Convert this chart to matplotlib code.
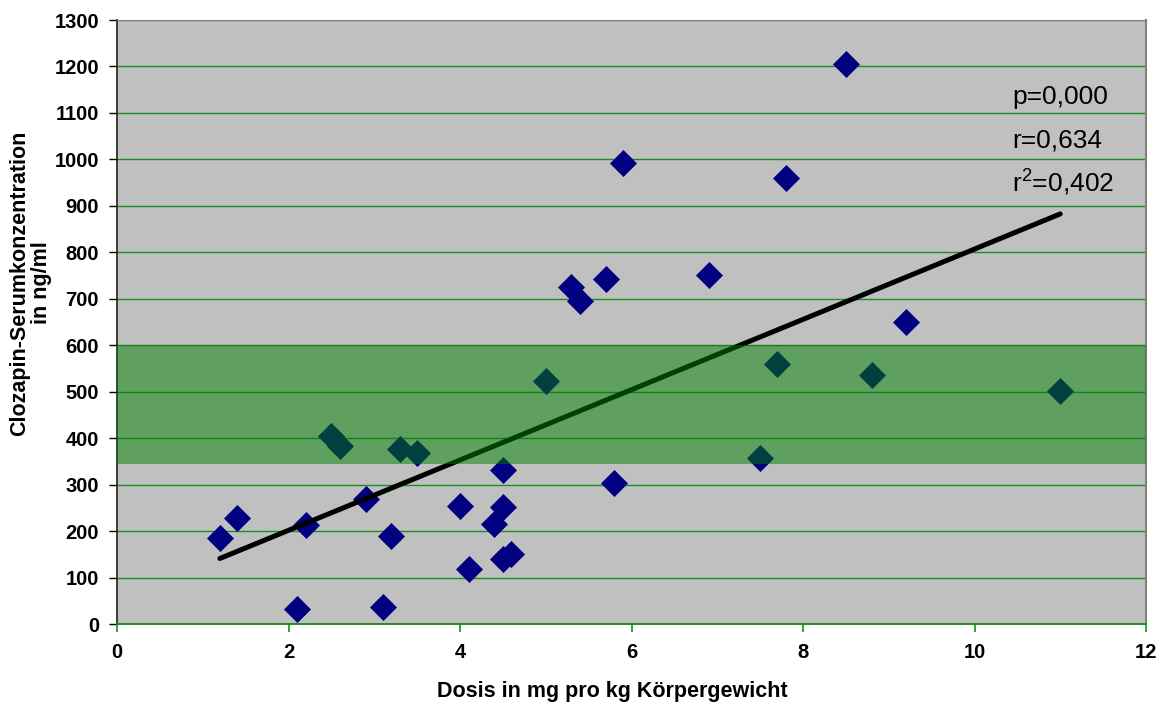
import numpy as np
import matplotlib
matplotlib.use("Agg")
import matplotlib.pyplot as plt

# Dose (mg/kg body weight) and clozapine serum concentration (ng/ml)
dose = [1.2, 1.4, 2.1, 2.2, 2.5, 2.6, 2.9, 3.1, 3.2, 3.3, 3.5, 4.0, 4.1, 4.4, 4.5, 4.5,
        4.5, 4.6, 5.0, 5.3, 5.4, 5.7, 5.8, 5.9, 6.9, 7.5, 7.7, 7.8, 8.5, 8.8, 9.2, 11.0]
serum = [185, 228, 32, 213, 405, 383, 269, 37, 189, 377, 368, 254, 118, 215, 331, 252,
         140, 151, 523, 725, 695, 742, 303, 992, 751, 357, 560, 960, 1205, 536, 650, 501]

# Therapeutic range
range_low, range_high = 345, 600

stats_text = ["p=0,000", "r=0,634", "r$^2$=0,402"]
x_ticks = [0, 2, 4, 6, 8, 10, 12]
y_ticks = list(range(0, 1301, 100))

plt.rcParams["font.family"] = ["Liberation Sans", "DejaVu Sans"]
plt.rcParams["mathtext.fontset"] = "custom"
plt.rcParams["mathtext.rm"] = "Liberation Sans"
plt.rcParams["mathtext.it"] = "Liberation Sans"
plt.rcParams["mathtext.default"] = "regular"

fig = plt.figure(figsize=(11.63, 7.07), dpi=100)
ax = fig.add_axes([117 / 1163, 1 - 624 / 707, (1146 - 117) / 1163, (624 - 20) / 707])
ax.set_facecolor("#c0c0c0")

ax.set_xlim(0, 12)
ax.set_ylim(0, 1300)

for yv in y_ticks[1:]:
    ax.axhline(yv, color="#1e8c1e", lw=1.0, zorder=1)

ax.scatter(dose, serum, marker="D", s=190, color="#000080", linewidths=0, zorder=3)

# Linear trend over the data range
slope, intercept = np.polyfit(dose, serum, 1)
xs = np.array([min(dose), max(dose)])
ax.plot(xs, slope * xs + intercept, color="black", lw=3.6, solid_capstyle="round", zorder=4)

ax.axhspan(range_low, range_high, color="#008000", alpha=0.5, lw=0, zorder=5)

for txt, yv in zip(stats_text, [1135, 1040, 950]):
    ax.text(10.44, yv, txt, fontsize=19, va="center", ha="left", zorder=6)

ax.set_xticks(x_ticks)
ax.set_yticks(y_ticks)
for lab in ax.get_xticklabels() + ax.get_yticklabels():
    lab.set_fontweight("bold")
ax.tick_params(axis="x", colors="#1e8c1e", labelcolor="black", length=6, width=1.2,
               labelsize=14.5, pad=8)
ax.tick_params(axis="y", colors="black", length=6, width=1.0, labelsize=14.5, pad=7)

ax.spines["left"].set_color("#202020")
ax.spines["left"].set_linewidth(1.2)
ax.spines["bottom"].set_color("#1e8c1e")
ax.spines["bottom"].set_linewidth(1.4)
ax.spines["top"].set_color("#808080")
ax.spines["right"].set_color("#808080")
ax.spines["right"].set_linewidth(1.5)

fig.text(31 / 1163, 1 - 283 / 707, "Clozapin-Serumkonzentration\nin ng/ml", rotation=90,
         ha="center", va="center", multialignment="center", fontsize=15.5, fontweight="bold",
         linespacing=1.05)
fig.text(612 / 1163, 1 - 692 / 707, "Dosis in mg pro kg Körpergewicht", ha="center",
         va="center", fontsize=15.5, fontweight="bold")

fig.savefig("out.png", dpi=100)
